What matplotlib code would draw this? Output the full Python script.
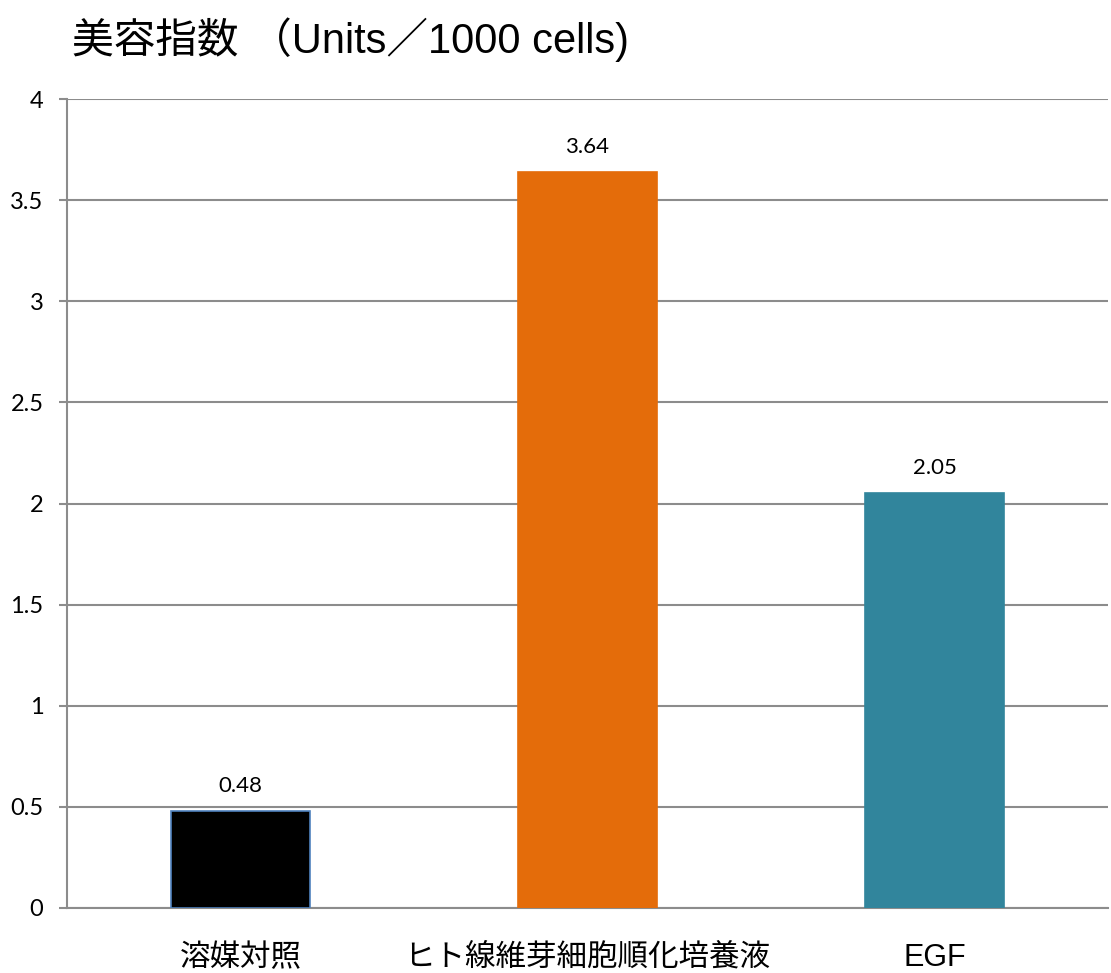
import matplotlib
matplotlib.use("Agg")
import matplotlib.pyplot as plt

categories = ["溶媒対照", "ヒト線維芽細胞順化培養液", "EGF"]
values = [0.48, 3.64, 2.05]
value_labels = ["0.48", "3.64", "2.05"]
colors = ["#000000", "#E46C0A", "#31859C"]
edgecolors = ["#4F81BD", "#E46C0A", "#31859C"]
yticks = [0, 0.5, 1, 1.5, 2, 2.5, 3, 3.5, 4]
ytick_labels = ["0", "0.5", "1", "1.5", "2", "2.5", "3", "3.5", "4"]
title = "美容指数 （Units／1000 cells)"

fig = plt.figure(figsize=(11.11, 9.73), dpi=100)
ax = fig.add_axes([67/1111, 1-908/973, (1108-67)/1111, (908-99)/973])

x = list(range(len(categories)))
ax.bar(x, values, width=0.4, color=colors, edgecolor=edgecolors, linewidth=1.2, zorder=3)
ax.set_xlim(-0.5, 2.5)
ax.set_ylim(0, 4)
ax.set_yticks(yticks)
ax.set_yticklabels(ytick_labels, fontfamily="Lato", fontsize=17)
ax.set_xticks(x)
ax.set_xticklabels(categories, fontfamily=["Liberation Sans", "Noto Sans CJK JP"], fontsize=22)
ax.tick_params(axis="x", length=0, pad=25)
ax.tick_params(axis="y", length=6, width=1.5, color="#8C8C8C", pad=11, direction="out")
ax.yaxis.grid(True, color="#8C8C8C", linewidth=1.5, zorder=0)
for s in ["top", "right"]:
    ax.spines[s].set_visible(False)
ax.spines["left"].set_color("#8C8C8C")
ax.spines["left"].set_linewidth(1.5)
ax.spines["bottom"].set_color("#8C8C8C")
ax.spines["bottom"].set_linewidth(1.5)

for xi, v, lab in zip(x, values, value_labels):
    ax.annotate(lab, (xi, v), xytext=(0, 11), textcoords="offset points",
                ha="center", va="bottom", fontfamily="Lato", fontsize=16)

fig.text(72/1111, 1-40/973, title, ha="left", va="center", fontsize=30,
         fontfamily=["Liberation Sans", "Noto Sans CJK JP"])

fig.savefig("out.png", dpi=100)
